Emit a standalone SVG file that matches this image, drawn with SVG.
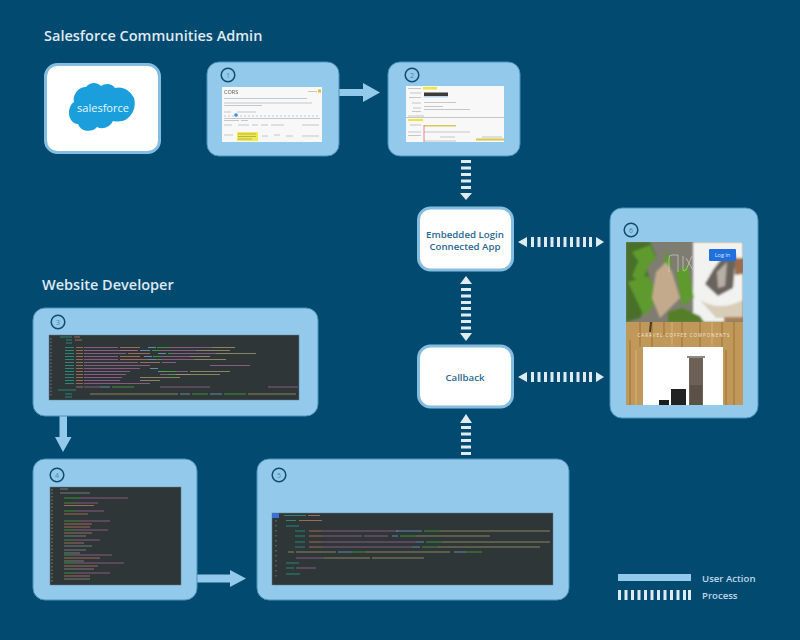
<svg xmlns="http://www.w3.org/2000/svg" width="800" height="640" viewBox="0 0 800 640">
<style>
.t{font-family:"Open Sans","Liberation Sans",sans-serif;font-weight:600}
.h{font-size:14.500px;fill:#dfe9f0}
.lbl{font-size:9.700px;fill:#2a6a8e;text-anchor:middle}
.lg{font-size:9.600px;fill:#bcd9ec}
.card{fill:#93c9ea;stroke:#4b93bd;stroke-width:1}
.tile{fill:#fff;stroke:#84bde0;stroke-width:3}
.num{fill:none;stroke:#0f4c70;stroke-width:1.500}
.n{font-family:"Open Sans","Liberation Sans",sans-serif;font-size:7px;fill:#4d87a8;text-anchor:middle}
.ua{fill:#93c9ea}
.pr{fill:#dfebf3}
.code{fill:#2f3638;stroke:#5f7f92;stroke-width:.5}
.c path{fill:none;stroke-width:.9;opacity:.85}
.p{stroke:#a5679a}.o{stroke:#c07a62}.g{stroke:#3fae3c}.b{stroke:#6fa8d0}.q{stroke:#2aa08e}.w{stroke:#8a8f94}.y{stroke:#a89c70}
.s path{fill:none;stroke:#aeb3b7;stroke-width:.7}
</style>
<defs>
<filter id="soft" x="-5%" y="-5%" width="110%" height="110%"><feGaussianBlur stdDeviation="0.5"/></filter>
<filter id="soft2" x="-5%" y="-5%" width="110%" height="110%"><feGaussianBlur stdDeviation="1.200"/></filter>
<g id="bh"><rect x="0" y="0" width="3" height="10"/></g>
<g id="bv"><rect x="0" y="0" width="10" height="3"/></g>
<clipPath id="ph"><rect x="626" y="242" width="117" height="163"/></clipPath>
</defs>
<rect width="800" height="640" fill="#034a70"/>
<text class="t h" x="44" y="41">Salesforce Communities Admin</text>
<text class="t h" x="42" y="290">Website Developer</text>

<g id="connectors">
<path class="ua" d="M339 89H363V83L380 92.500L363 102V96H339Z"/>
<path class="ua" d="M59.500 416H67V437H71.500L63 452L55 437H59.500Z"/>
<path class="ua" d="M197 574.500H230V570L246 578.500L230 587V582.500H197Z"/>
<g class="pr" id="p-2-app">
<use href="#bv" x="461" y="160"/><use href="#bv" x="461" y="166.500"/><use href="#bv" x="461" y="173"/><use href="#bv" x="461" y="179.500"/><use href="#bv" x="461" y="186"/>
<path d="M460 193H472L466 200Z"/>
</g>
<g class="pr" id="p-app-cb">
<path d="M466 276L472 284H460Z"/>
<use href="#bv" x="461" y="288"/><use href="#bv" x="461" y="294.500"/><use href="#bv" x="461" y="301"/><use href="#bv" x="461" y="307"/><use href="#bv" x="461" y="313.500"/><use href="#bv" x="461" y="320"/><use href="#bv" x="461" y="326.500"/>
<path d="M460 333H472L466 341Z"/>
</g>
<g class="pr" id="p-5-cb">
<path d="M466 414L472 423H460Z"/>
<use href="#bv" x="461" y="426"/><use href="#bv" x="461" y="432.500"/><use href="#bv" x="461" y="439"/><use href="#bv" x="461" y="445.500"/><use href="#bv" x="461" y="452"/>
</g>
<g class="pr" id="p-app-6">
<path d="M518 242L527 237V247Z"/>
<use href="#bh" x="531" y="237"/><use href="#bh" x="537.500" y="237"/><use href="#bh" x="544" y="237"/><use href="#bh" x="550.500" y="237"/><use href="#bh" x="557" y="237"/><use href="#bh" x="563.500" y="237"/><use href="#bh" x="570" y="237"/><use href="#bh" x="576.500" y="237"/><use href="#bh" x="583" y="237"/><use href="#bh" x="589" y="237"/>
<path d="M604 242L596 237V247Z"/>
</g>
<g class="pr" id="p-cb-6">
<path d="M518 377L527 372V382Z"/>
<use href="#bh" x="531" y="372"/><use href="#bh" x="537.500" y="372"/><use href="#bh" x="544" y="372"/><use href="#bh" x="550.500" y="372"/><use href="#bh" x="557" y="372"/><use href="#bh" x="563.500" y="372"/><use href="#bh" x="570" y="372"/><use href="#bh" x="576.500" y="372"/><use href="#bh" x="583" y="372"/><use href="#bh" x="589" y="372"/>
<path d="M604 377L596 372V382Z"/>
</g>
</g>

<g id="salesforce">
<rect class="tile" x="45.500" y="64.500" width="114" height="88" rx="12"/>
<path fill="#1b9fdc" d="M86 87C90 82 97 82 101 86C105 83 112 83 115 88C122 86 130 90 134 98C136 105 134 113 128 118C124 122 117 122 113 121C110 127 103 130 97 127C92 133 81 132 78 124C73 124 69 119 69 113C69 108 71 104 74 102C72 95 79 86 86 87Z"/>
<text x="103" y="112" text-anchor="middle" font-family="'Open Sans','Liberation Sans',sans-serif" font-size="11" fill="#eaf6fc">salesforce</text>
</g>

<g id="node1">
<rect class="card" x="207" y="62" width="132" height="94" rx="12"/>
<circle class="num" cx="228" cy="75" r="6.800"/><text class="n" x="228" y="77.500">1</text>
<rect x="222" y="87" width="100" height="55" fill="#f8f8f8"/>
<g filter="url(#soft)">
<text x="224" y="94" font-family="'Open Sans','Liberation Sans',sans-serif" font-size="5.500" fill="#555">CORS</text>
<g class="s">
<path d="M224 98.500H307M224 103H312M224 105.500H262M224 112H231M237 112H256M224 120.500H239M241 120.500H248M224 125H232M238 125H249M252 125H258M261 125H268M271 125H284M302 125H319M224 135H233M262 136H268M274 135H280M286 136H293M302 136H319"/>
<path d="M224 116H320" stroke-dasharray="2 2"/>
<path d="M224 118.500H320" stroke="#d5dbe3" stroke-width="1"/>
<path d="M308 91.500H317" stroke="#5b8fc7"/>
</g>
<rect x="318" y="89.500" width="3" height="3" fill="#e8b93c"/>
<circle cx="236" cy="115" r="1.800" fill="#3a8ee0"/>
<rect x="237" y="132" width="21" height="9" fill="#f2ea45"/>
<path d="M238 134H256M238 136.500H256M238 139H252" stroke="#777" stroke-width=".5"/>
</g>
</g>

<g id="node2">
<rect class="card" x="388" y="62" width="132" height="94" rx="12"/>
<circle class="num" cx="412" cy="75" r="6.800"/><text class="n" x="412" y="77.500">2</text>
<rect x="406" y="86" width="98" height="56" fill="#f8f8f8"/>
<g filter="url(#soft)">
<g class="s">
<path d="M408 88.500H421M410 93H421M409 97.500H421M412 103H421M413 108H421M412 111.500H421M424 102.500H456M424 106.500H443M424 109.500H470M408 116H424M410 125H421M408 132H421M408 135.500H421M424 132H470M440 137H455M482 137H502M424 141H456"/>
<path d="M406 117.500H504" stroke="#cfd9e6" stroke-width="1.200"/>
</g>
<rect x="423" y="87" width="14" height="2.500" fill="#f0e63a"/>
<rect x="424" y="92.500" width="24" height="3.500" fill="#3a3a3a"/>
<rect x="424" y="96" width="24" height="1.500" fill="#bcd8ee"/>
<rect x="408" y="119" width="15" height="2" fill="#efe43a"/>
<rect x="424" y="125" width="32" height="1.500" fill="#d7cc52"/>
<rect x="476" y="138.500" width="28" height="2" fill="#d8c84a"/>
<path d="M424 125V142" stroke="#e0667a" stroke-width=".8"/>
</g>
</g>

<g id="app">
<rect class="tile" x="418.500" y="208" width="94" height="62" rx="12"/>
<text class="t lbl" x="465" y="238">Embedded Login</text>
<text class="t lbl" x="465" y="250">Connected App</text>
</g>
<g id="callback">
<rect class="tile" x="418.500" y="346" width="94" height="61" rx="12"/>
<text class="t lbl" x="465" y="381">Callback</text>
</g>

<g id="node6">
<rect class="card" x="610" y="208" width="148" height="210" rx="12"/>
<circle class="num" cx="631" cy="230" r="6.800"/><text class="n" x="631" y="232.500">6</text>
<g clip-path="url(#ph)">
<rect x="626" y="242" width="117" height="80" fill="#7f7d72"/>
<g filter="url(#soft2)">
<rect x="693" y="242" width="50" height="80" fill="#f2f3f1"/>
<path d="M626 242H650L656 256L646 268L654 290L640 318L626 322Z" fill="#48702a"/>
<path d="M632 252L650 245L656 258L644 270ZM628 282L648 276L660 298L644 316ZM638 262L648 266L642 284L632 276ZM676 272L688 264L694 298L682 306ZM666 252L672 262L668 276L662 268Z" fill="#5f9a2d"/>
<path d="M656 272L666 262L672 272L680 298L660 318L652 298Z" fill="#c3aa8d"/>
<path d="M668 312L682 308L700 316L704 322H668Z" fill="#557f28"/>
<path d="M700 300Q720 312 743 300V318H716Z" fill="#d8cdb8"/>
<path d="M713 270L722 258L736 254L733 288L718 296L705 284Z" fill="#6a635b"/>
<path d="M717 272L727 262L725 286L718 288Z" fill="#b5afa6"/>
<path d="M735 258H743V274L735 275Z" fill="#9c6d4c"/>
<path d="M724 317H743V322H724Z" fill="#a8815a"/>
</g>
<path d="M669 272V258Q669 255 672 255H678M678 255V272M683 256V270Q683 272 686 270L692 256M686 258L693 270" fill="none" stroke="#dfe3dc" stroke-width=".7" opacity=".8"/>
<rect x="626" y="322" width="117" height="83" fill="#c09859"/>
<g filter="url(#soft)" stroke-width="1.500" fill="none">
<path d="M640 322V347M652 322V347M664 322V335M682 322V347M700 322V347M722 322V347M734 322V405M630 340V405M726 350V405" stroke="#a97f42"/>
<path d="M651 322L650 332" stroke="#4b3a22" stroke-width="2"/>
<path d="M672 322V345M712 322V345M636 350V405" stroke="#d2ab6d"/>
</g>
<text x="684" y="337" text-anchor="middle" font-family="'Open Sans','Liberation Sans',sans-serif" font-size="4.500" letter-spacing="1" fill="#f4ead6">CARAVEL COFFEE COMPONENTS</text>
<rect x="643" y="347" width="80" height="58" fill="#fff"/>
<g filter="url(#soft)">
<rect x="689" y="357" width="14" height="48" fill="#6e6259"/>
<rect x="687" y="356" width="18" height="2" fill="#8d8a86"/>
<rect x="690" y="385" width="12" height="20" fill="#5b5146"/>
<rect x="671" y="389" width="15" height="16" fill="#242322"/>
<rect x="659" y="400" width="10" height="5" fill="#1f1f1f"/>
</g>
<rect x="709" y="249" width="27" height="12" rx="1" fill="#1f6fdc"/>
<text x="722.500" y="257" text-anchor="middle" font-family="'Open Sans','Liberation Sans',sans-serif" font-size="5.500" fill="#dfeafa">Log In</text>
</g>
</g>

<g id="node3">
<rect class="card" x="33" y="308" width="285" height="108" rx="12"/>
<circle class="num" cx="58" cy="322" r="6.800"/><text class="n" x="58" y="324.500">3</text>
<rect class="code" x="49" y="335" width="250" height="65"/>
<g class="c" filter="url(#soft)">
<path class="w" d="M51 338V397" stroke-dasharray="1.500 2"/>
<path class="q" d="M60 337H72M66 340H72M66 343H72M65 347.500H74M65 350.500H74M65 353.500H74M65 356.500H74M65 359.500H74M65 362.500H74M65 365.500H74M65 368.500H74M65 371.500H74M65 374.500H74M65 377.500H74M65 380.500H74M65 383.500H74M58 390H76M65 394H72M65 397H72"/>
<path class="o" d="M74 337H80M75 340H82M76 347.500H83M76 350.500H83M76 353.500H83M76 356.500H83M76 359.500H83M76 362.500H83M76 365.500H83M76 368.500H83M76 371.500H83M76 374.500H83M76 377.500H83M76 380.500H83M76 383.500H83M76 387H83M120 347.500H140M120 350.500H138M128 353.500H150M120 356.500H140M120 359.500H148M140 362.500H160"/>
<path class="p" d="M84 347.500H118M84 350.500H136M84 353.500H126M84 356.500H118M84 359.500H118M84 362.500H138M84 365.500H150M84 368.500H140M84 371.500H130M84 374.500H126M84 377.500H122M84 380.500H120M84 383.500H150M84 387H100M170 347.500H212M160 350.500H196M172 353.500H216M160 356.500H190M156 359.500H194M162 362.500H176M160 371.500H188M160 374.500H190M170 387H210M268 387H298M210 365.500H250M160 387H170"/>
<path class="b" d="M148 347.500H156M140 350.500H150M158 353.500H166M144 356.500H152M148 359.500H156M150 368.500H158M158 371.500H166M100 387H110M180 394H190M210 394H222"/>
<path class="g" d="M157 347.500H170M152 350.500H160M168 353.500H172M153 356.500H160M158 359.500H162M160 371.500H176M168 374.500H176M112 387H134M192 394H208M224 394H246"/>
<path class="y" d="M140 377.500H180M140 380.500H160M90 394H178M248 394H296M212 347.500H235M196 350.500H230M216 353.500H256M190 356.500H210M194 359.500H226M190 371.500H230M176 374.500H220"/>
</g>
</g>

<g id="node4">
<rect class="card" x="33" y="459" width="164" height="141" rx="12"/>
<circle class="num" cx="57" cy="475" r="6.800"/><text class="n" x="57" y="477.500">4</text>
<rect class="code" x="50" y="487" width="131" height="98"/>
<g class="c" filter="url(#soft)">
<path class="y" stroke-dasharray="1.500 2" d="M52 489V583"/>
<path class="w" d="M60 489H68M60 493H90"/>
<path class="g" d="M64 498H80M64 503H74M64 511H76M64 521H78M64 530H74M64 540H74M64 555H74M64 563H76M64 573H74"/>
<path class="p" d="M80 498H128M74 503H98M76 511H104M78 521H110M74 530H108M74 540H100M74 555H112M76 563H124M74 573H110"/>
<path class="o" d="M64 505.500H94M64 514H88M64 524H92M64 527H90M64 533H92M64 543H84M64 558H100M64 566H98M64 576H90"/>
<path class="w" d="M64 536H86M64 546H92M64 550H86M64 553H80M64 561H84M64 569H94M64 579H90"/>
</g>
</g>

<g id="node5">
<rect class="card" x="257" y="459" width="312" height="141" rx="12"/>
<circle class="num" cx="279" cy="475" r="6.800"/><text class="n" x="279" y="477.500">5</text>
<rect class="code" x="272" y="513" width="281" height="72"/>
<g class="c" filter="url(#soft)">
<rect x="272" y="513" width="7" height="5" fill="#3a6fd0"/>
<path class="w" stroke-dasharray="1.500 3.500" d="M276 520V580"/>
<path class="q" d="M284 515.500H306M286 520.500H296M286 526H299M295 531H305M295 536H305M295 542H305M295 547H305M286 563H299M286 568H294M286 574H300"/>
<path class="o" d="M308 515.500H320M299 520.500H322M309 531H322M309 536H322M309 542H322M309 547H322"/>
<path class="p" d="M296 568H316M322 531H374M322 536H362M322 542H392M322 547H376M374 531H398M364 536H388M392 542H416M376 547H412M296 558H324"/>
<path class="b" d="M396 531H422M392 536H398M416 542H424M412 547H420M338 552H352M454 552H466"/>
<path class="g" d="M424 531H440M400 536H416M426 542H442M422 547H438M352 552H366M466 552H482"/>
<path class="y" d="M440 531H550M416 536H490M442 542H550M438 547H540M296 552H336M366 552H450M288 552H294M324 558H370M372 558H424"/>
</g>
</g>

<g id="legend">
<rect class="ua" x="618" y="574" width="73" height="7"/>
<g class="pr">
<use href="#bh" x="618" y="590"/><use href="#bh" x="624.500" y="590"/><use href="#bh" x="631" y="590"/><use href="#bh" x="637.500" y="590"/><use href="#bh" x="644" y="590"/><use href="#bh" x="650.500" y="590"/><use href="#bh" x="657" y="590"/><use href="#bh" x="663.500" y="590"/><use href="#bh" x="670" y="590"/><use href="#bh" x="676.500" y="590"/><use href="#bh" x="683" y="590"/><use href="#bh" x="688" y="590"/>
</g>
<text class="t lg" x="702" y="582">User Action</text>
<text class="t lg" x="702" y="599">Process</text>
</g>
</svg>
